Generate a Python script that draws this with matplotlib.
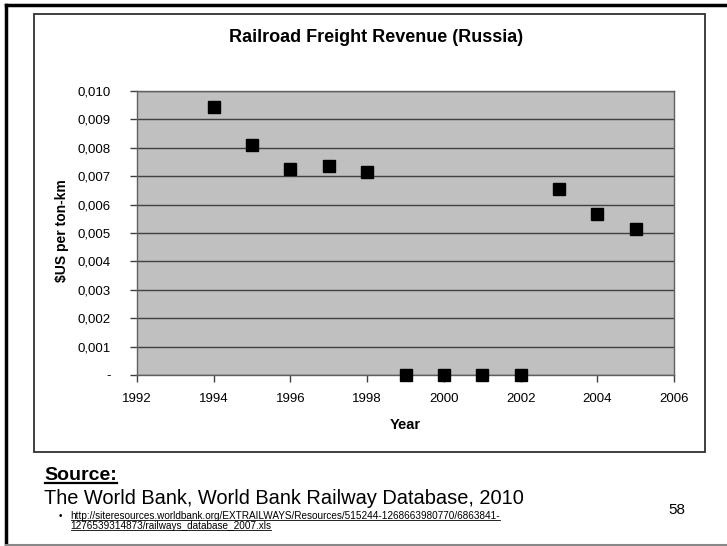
import matplotlib
matplotlib.use("Agg")
import matplotlib.pyplot as plt
from matplotlib.lines import Line2D
from matplotlib.patches import Rectangle
from matplotlib.ticker import FuncFormatter, MultipleLocator

plt.rcParams['font.family'] = ['Liberation Sans', 'DejaVu Sans']

# Revenue per ton-km, USD
years = [1994, 1995, 1996, 1997, 1998, 1999, 2000, 2001, 2002, 2003, 2004, 2005]
revenue = [0.00944, 0.00811, 0.00726, 0.00735, 0.00714, 0.0, 0.0, 0.0, 0.0,
           0.00655, 0.00567, 0.00514]

W, H = 727, 546
fig = plt.figure(figsize=(W / 100, H / 100), dpi=100)


def fx(px):
    return px / W


def fy(py):
    return 1 - py / H


# slide frame
fig.add_artist(Line2D([fx(6), fx(6)], [fy(5), fy(545)], color='black', lw=2.5))
fig.add_artist(Line2D([fx(6), 1], [fy(5), fy(5)], color='black', lw=2.5))
fig.add_artist(Line2D([fx(6), 1], [fy(545), fy(545)], color='#888888', lw=1.5))

# chart box
fig.add_artist(Rectangle((fx(34), fy(452)), fx(705) - fx(34), fy(14) - fy(452),
                         fill=False, edgecolor='#303030', lw=1.3))

ax = fig.add_axes([fx(137), fy(375), fx(674) - fx(137), fy(91) - fy(375)])
ax.set_facecolor('#C0C0C0')
ax.plot(years, revenue, linestyle='none', marker='s', markersize=8.5,
        color='black', clip_on=False, zorder=5)

ax.set_xlim(1992, 2006)
ax.set_ylim(0, 0.010)
ax.xaxis.set_major_locator(MultipleLocator(2))
ax.yaxis.set_major_locator(MultipleLocator(0.001))


def comma_fmt(v, pos):
    if abs(v) < 1e-9:
        return '-'
    return f'{v:.3f}'.replace('.', ',')


ax.yaxis.set_major_formatter(FuncFormatter(comma_fmt))
ax.grid(axis='y', color='#404040', lw=1.0)
ax.set_axisbelow(True)
for s in ax.spines.values():
    s.set_color('#606060')
    s.set_linewidth(1.0)
ax.tick_params(axis='both', direction='out', length=5, width=1.0,
               color='#404040', labelsize=9.5, labelcolor='black')
ax.tick_params(axis='y', pad=14)
ax.tick_params(axis='x', pad=8)

fig.text(fx(376), fy(37), 'Railroad Freight Revenue (Russia)', ha='center',
         va='center', fontsize=13, fontweight='bold')
fig.text(fx(62), fy(231), '$US per ton-km', ha='center', va='center',
         rotation=90, fontsize=10, fontweight='bold')
fig.text(fx(405), fy(425), 'Year', ha='center', va='center', fontsize=10.5,
         fontweight='bold')

src = fig.text(fx(44), fy(475), 'Source:', ha='left', va='center',
               fontsize=14, fontweight='bold')
fig.text(fx(44), fy(498), 'The World Bank, World Bank Railway Database, 2010',
         ha='left', va='center', fontsize=14.4)
fig.text(fx(60), fy(516), '•', ha='center', va='center', fontsize=7)
url1 = fig.text(fx(70), fy(516),
                'http://siteresources.worldbank.org/EXTRAILWAYS/Resources/'
                '515244-1268663980770/6863841-',
                ha='left', va='center', fontsize=7.2)
url2 = fig.text(fx(70), fy(526), '1276539314873/railways_database_2007.xls',
                ha='left', va='center', fontsize=7.2)
fig.text(fx(677), fy(510), '58', ha='center', va='center', fontsize=11)

# underline the source heading and link text
fig.canvas.draw()
renderer = fig.canvas.get_renderer()
for t, lw in [(src, 1.6), (url1, 0.6), (url2, 0.6)]:
    bb = t.get_window_extent(renderer)
    y0 = bb.y0 + 1
    fig.add_artist(Line2D([(bb.x0 + 1) / W, bb.x1 / W], [y0 / H, y0 / H],
                          color='black', lw=lw))

fig.savefig('out.png', dpi=100)
